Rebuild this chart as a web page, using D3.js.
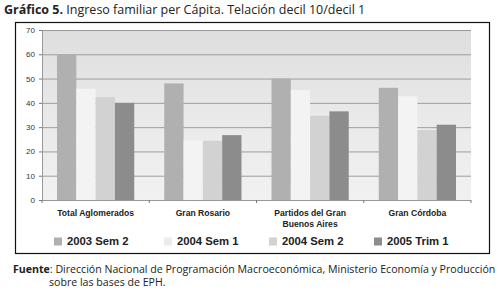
<!DOCTYPE html>
<html><head><meta charset="utf-8">
<script src="https://cdn.jsdelivr.net/npm/d3@7"></script>
<style>
html,body{margin:0;padding:0;background:#fff;}
svg{display:block;}
</style></head>
<body>
<script>
const categories = [["Total Aglomerados"], ["Gran Rosario"], ["Partidos del Gran", "Buenos Aires"], ["Gran Córdoba"]];
const seriesNames = ["2003 Sem 2", "2004 Sem 1", "2004 Sem 2", "2005 Trim 1"];
const s2003S2 = [60, 48, 50, 46.2];
const s2004S1 = [45.8, 24.5, 45.3, 42.7];
const s2004S2 = [42.4, 24.4, 34.7, 28.8];
const s2005T1 = [40, 26.7, 36.5, 31];
const yTicks = [0, 10, 20, 30, 40, 50, 60, 70];
const seriesValues = [s2003S2, s2004S1, s2004S2, s2005T1];
const colors = ["#b0b0b0", "#f3f3f3", "#d2d2d2", "#8c8c8c"];

const W = 502, H = 294;
const svg = d3.select("body").append("svg").attr("width", W).attr("height", H);
const defs = svg.append("defs");
const bg = defs.append("linearGradient").attr("id","bg").attr("x1",0).attr("y1",0).attr("x2",0).attr("y2",1);
bg.append("stop").attr("offset","0%").attr("stop-color","#dedede");
bg.append("stop").attr("offset","50%").attr("stop-color","#e9e9e9");
bg.append("stop").attr("offset","100%").attr("stop-color","#f1f1f1");

// Title
const title = svg.append("text").attr("x", 4).attr("y", 14)
  .style("font-family", "'Open Sans', 'DejaVu Sans', sans-serif").style("font-size", "12.5px").attr("fill", "#222");
title.append("tspan").text("Gráfico 5.").style("font-weight", "bold");
title.append("tspan").text(" Ingreso familiar per Cápita. Telación decil 10/decil 1");

// Frame
svg.append("rect").attr("x", 15.5).attr("y", 22.5).attr("width", 474).attr("height", 231)
  .attr("fill", "none").attr("stroke", "#111").attr("stroke-width", 1.2);

const plot = {l: 42, r: 471, t: 30, b: 200};
const x0 = d3.scaleBand().domain(d3.range(categories.length)).range([plot.l, plot.r]).paddingInner(0.28).paddingOuter(0.14);
const x1 = d3.scaleBand().domain(d3.range(seriesNames.length)).range([0, x0.bandwidth()]).padding(0);
const y = d3.scaleLinear().domain([0, 70]).range([plot.b, plot.t]);

svg.append("rect").attr("x", plot.l).attr("y", plot.t).attr("width", plot.r - plot.l).attr("height", plot.b - plot.t)
  .attr("fill", "url(#bg)");

// gridlines
svg.append("g").selectAll("line").data(yTicks.filter(d => d > 0)).join("line")
  .attr("x1", plot.l).attr("x2", plot.r).attr("y1", d => y(d) + 0.5).attr("y2", d => y(d) + 0.5)
  .attr("stroke", "#8a8a8a").attr("stroke-width", 0.8);

// y axis
const yAxis = svg.append("g").attr("transform", `translate(${plot.l},0)`)
  .call(d3.axisLeft(y).tickValues(yTicks).tickSize(3).tickPadding(4));
yAxis.select(".domain").attr("stroke", "#999");
yAxis.selectAll(".tick line").attr("stroke", "#777");
yAxis.selectAll("text").style("font-family", "'Liberation Sans Narrow','Liberation Sans',sans-serif").style("font-size", "8px").attr("fill", "#333");

// bars
const groups = svg.append("g").selectAll("g").data(categories).join("g")
  .attr("transform", (d, i) => `translate(${x0(i)},0)`);
groups.selectAll("rect").data((d, i) => seriesValues.map((s, k) => ({k, v: s[i]}))).join("rect")
  .attr("x", d => x1(d.k)).attr("width", x1.bandwidth())
  .attr("y", d => y(d.v)).attr("height", d => y(0) - y(d.v))
  .attr("fill", d => colors[d.k]);

// x axis
const boundaries = d3.range(categories.length + 1).map(i => plot.l + i * (plot.r - plot.l) / categories.length);
svg.append("line").attr("x1", plot.l).attr("x2", plot.r).attr("y1", plot.b + 0.5).attr("y2", plot.b + 0.5).attr("stroke", "#999");
svg.append("g").selectAll("line").data(boundaries).join("line")
  .attr("x1", d => d).attr("x2", d => d).attr("y1", plot.b).attr("y2", plot.b + 3).attr("stroke", "#777");

// category labels
const cl = svg.append("g").selectAll("text").data(categories).join("text")
  .attr("x", (d, i) => x0(i) + x0.bandwidth() / 2).attr("y", 216)
  .attr("text-anchor", "middle")
  .style("font-family", "'Liberation Sans Narrow','Liberation Sans',sans-serif").style("font-size", "8.6px").style("font-weight", "bold").attr("fill", "#222");
cl.selectAll("tspan").data(d => d).join("tspan")
  .attr("x", function(){ return this.parentNode.getAttribute("x"); })
  .attr("dy", (d, j) => j === 0 ? 0 : 11).text(d => d);

// legend
const legendX = [54, 164, 269, 374];
const lg = svg.append("g").selectAll("g").data(seriesNames).join("g")
  .attr("transform", (d, i) => `translate(${legendX[i]},245)`);
lg.append("rect").attr("x", 0).attr("y", -7.5).attr("width", 8).attr("height", 8).attr("fill", (d, i) => colors[i] === "#f3f3f3" ? "#ececec" : colors[i]);
lg.append("text").attr("x", 13).attr("y", 0).text(d => d)
  .style("font-family", "'Liberation Sans Narrow','Liberation Sans',sans-serif").style("font-size", "11.3px").style("font-weight", "bold").attr("fill", "#222");

// footer
const f1 = svg.append("text").attr("x", 13).attr("y", 273)
  .style("font-family", "'Open Sans','DejaVu Sans',sans-serif").style("font-size", "10.6px").attr("fill", "#222");
f1.append("tspan").text("Fuente").style("font-weight", "bold");
f1.append("tspan").text(": Dirección Nacional de Programación Macroeconómica, Ministerio Economía y Producción");
svg.append("text").attr("x", 49).attr("y", 286).text("sobre las bases de EPH.")
  .style("font-family", "'Open Sans','DejaVu Sans',sans-serif").style("font-size", "10.6px").attr("fill", "#222");
</script>
</body></html>
